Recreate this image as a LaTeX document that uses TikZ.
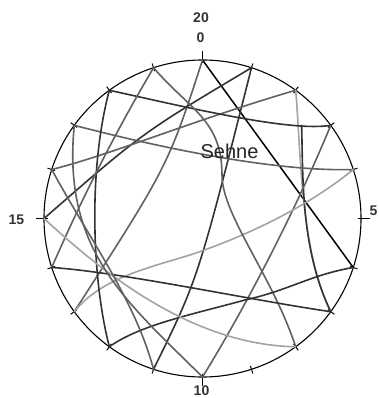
\documentclass[tikz,border=0pt]{standalone}
\usepackage{fontspec}
\setmainfont{Liberation Sans}
\begin{document}
\begin{tikzpicture}[x=1pt,y=-1pt,
  chord/.style={line width=1.6pt, line cap=round},
  dk/.style={chord, draw=black!80},
  md/.style={chord, draw=black!62},
  lt/.style={chord, draw=black!36},
  tickmark/.style={line width=1pt, draw=black},
  num/.style={font=\bfseries\fontsize{14}{14}\selectfont, text=black!80, inner sep=0pt}]
\useasboundingbox (0,0) rectangle (378,398);
\fill[white] (0,0) rectangle (378,398);
\begin{scope}[shift={(202.5,218.5)}]
\foreach \k in {0,...,19} {
  \coordinate (t\k) at ({-90+18*\k}:158.5);
  \draw[tickmark] ({-90+18*\k}:155) -- ({-90+18*\k}:163);
}
\foreach \k in {0,5,10,15} \draw[tickmark] ({-90+18*\k}:155) -- ({-90+18*\k}:167);
\draw[line width=1.1pt] (0,0) circle [radius=158.5pt];
\end{scope}
% labels
\node[num] (l20) at (201,17.5) {20};
\node[num] (l0) at (200.5,37.5) {0};
\node[num] (l15) at (16.5,219.5) {15};
\node[num, anchor=east] (l5) at (377.5,211) {5};
\node[num] (l10) at (201.5,391) {10};
% chords
\draw[chord, draw=black, line width=1.5pt] (t0) -- (t6);
\draw[md] (t0) .. controls (168,166) .. (t13);
\draw[dk] (t1) .. controls (198,279) .. (t11);
\draw[dk] (t1) .. controls (142,133) .. (t15);
\draw[md] (t2) .. controls (200,118) and (110,155) .. (t16);
\draw[lt] (t2) .. controls (301,150) and (300,250) .. (t7);
\draw[dk] (t2) ++(6,35) .. controls (303,180) and (301,250) .. (t7);
\draw[dk] (t18) .. controls (190,108) and (290,132) .. (t3);
\draw[md] (t3) .. controls (300,200) and (250,300) .. (t10);
\draw[md] (t17) .. controls (150,145) and (270,172) .. (t4);
\draw[lt] (t4) .. controls (310,205) and (250,235) .. (190,255) .. controls (140,270) and (100,280) .. (t13);
\draw[dk] (t18) .. controls (88,170) and (92,280) .. (t12);
\draw[md] (t19) .. controls (190,110) and (222,120) .. (222,175) .. controls (222,215) and (272,275) .. (t8);
\draw[md] (t19) .. controls (115,133) and (82,198) .. (t14);
\draw[dk] (t6) .. controls (310,275) and (290,290) .. (245,300) .. controls (190,315) and (140,325) .. (t12);
\draw[dk] (t14) .. controls (120,272) and (250,300) .. (t7);
\draw[lt] (t15) .. controls (100,270) and (190,345) .. (t8);
\draw[md] (t17) .. controls (62,250) and (125,300) .. (t10);
\draw[md] (t16) .. controls (90,240) and (135,300) .. (t11);
\node[font=\fontsize{20}{20}\selectfont, text=black!85, inner sep=0pt] (sehne) at (229.5,151.5) {Sehne};
\end{tikzpicture}
\end{document}
